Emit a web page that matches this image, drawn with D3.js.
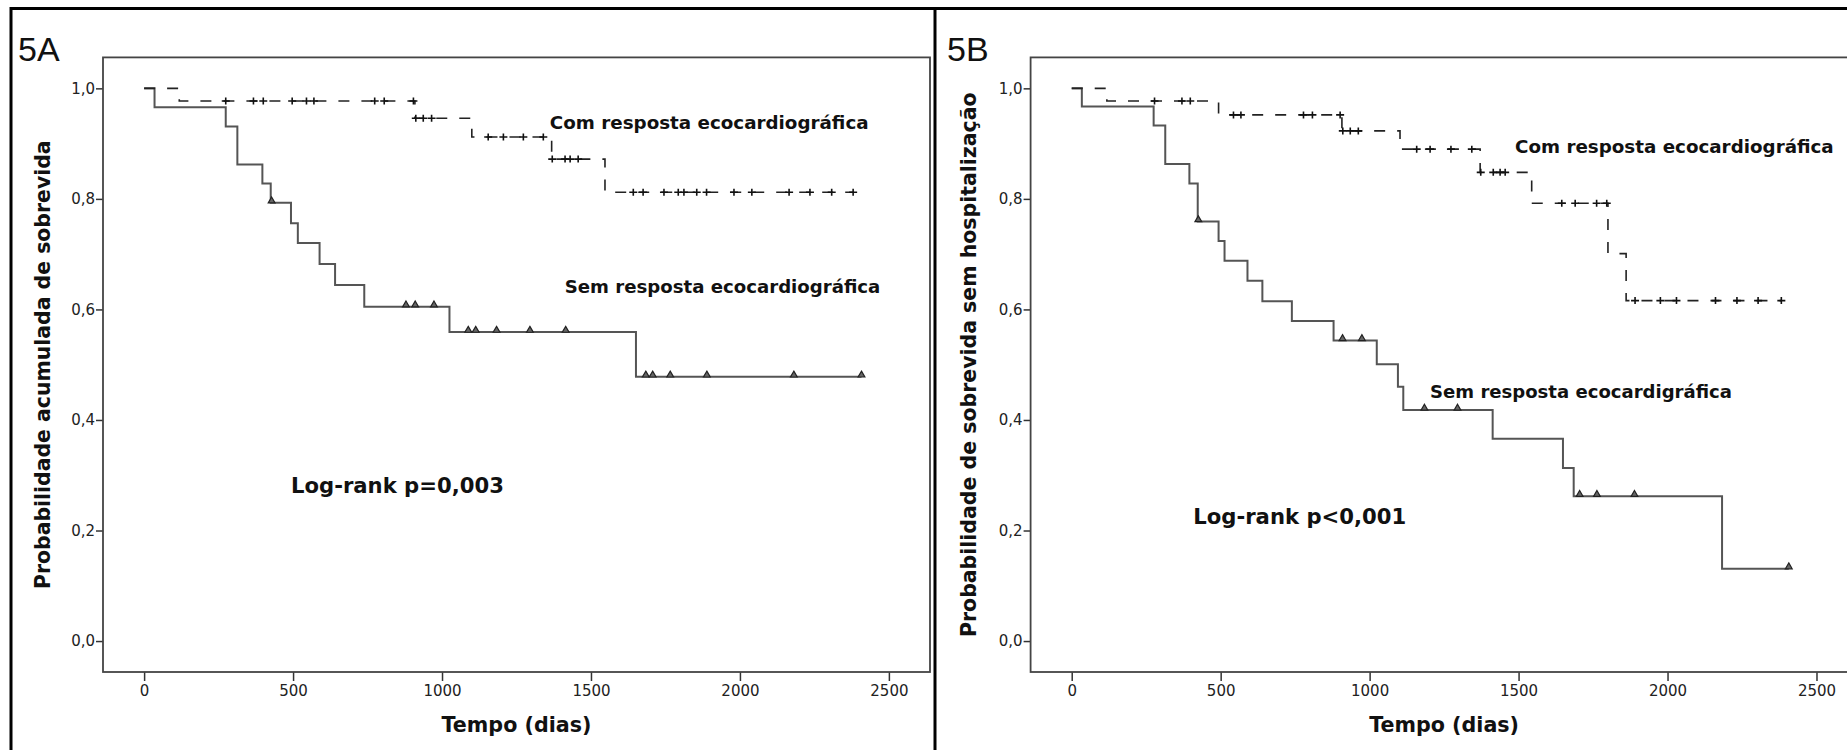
<!DOCTYPE html>
<html>
<head>
<meta charset="utf-8">
<script src="https://cdn.jsdelivr.net/npm/d3@7"></script>
<style>
body { margin: 0; background: #fff; }
svg { display: block; }
</style>
</head>
<body>
<div id="chart"></div>
<script>
const xTicks = [0, 500, 1000, 1500, 2000, 2500];
const yTicks = [0, 0.2, 0.4, 0.6, 0.8, 1.0];

// 5A - com resposta (dashed)
const comA_t = [0, 118, 909, 1100, 1368, 1547];
const comA_s = [1.0, 0.977, 0.946, 0.912, 0.872, 0.812];
const comA_end = 2380;
const comA_cens = [274, 367, 400, 497, 545, 570, 774, 806, 904, 912, 937, 965, 1155, 1206, 1273, 1340,
    1370, 1413, 1430, 1457, 1642, 1675, 1745, 1793, 1812, 1855, 1888, 1980, 2040, 2165, 2235, 2308, 2380];
// 5A - sem resposta (solid)
const semA_t = [0, 35, 274, 313, 397, 425, 493, 516, 589, 641, 739, 1025, 1651];
const semA_s = [1.0, 0.966, 0.931, 0.862, 0.828, 0.793, 0.756, 0.72, 0.682, 0.644, 0.605, 0.559, 0.478];
const semA_end = 2408;
const semA_cens = [428, 879, 910, 973, 1088, 1113, 1183, 1295, 1415, 1684, 1707, 1766, 1889, 2181, 2408];

// 5B - com resposta (dashed)
const comB_t = [0, 118, 493, 907, 1102, 1371, 1544, 1800, 1861];
const comB_s = [1.0, 0.977, 0.952, 0.923, 0.89, 0.848, 0.792, 0.701, 0.616];
const comB_end = 2382;
const comB_cens = [278, 370, 398, 543, 568, 778, 808, 901, 910, 935, 962, 1158, 1203, 1273, 1343,
    1373, 1415, 1438, 1455, 1645, 1690, 1762, 1796, 1891, 1976, 2030, 2161, 2233, 2304, 2382];
// 5B - sem resposta (solid)
const semB_t = [0, 34, 275, 314, 395, 423, 493, 513, 590, 640, 739, 879, 1024, 1095, 1113, 1413, 1649, 1685, 2183];
const semB_s = [1.0, 0.967, 0.933, 0.863, 0.828, 0.759, 0.724, 0.688, 0.652, 0.615, 0.579, 0.544, 0.501, 0.46, 0.418, 0.366, 0.313, 0.262, 0.131];
const semB_end = 2407;
const semB_cens = [425, 909, 974, 1184, 1295, 1705, 1763, 1889, 2407];

// annotations: [text, day, prob, width, size]
const notesA = [
    ["Com resposta ecocardiográfica", 1362, 0.927, 319, 18],
    ["Sem resposta ecocardiográfica", 1412, 0.63, 316, 18],
    ["Log-rank p=0,003", 493, 0.268, 213, 21]
];
const notesB = [
    ["Com resposta ecocardiográfica", 1488, 0.883, 319, 18],
    ["Sem resposta ecocardigráfica", 1203, 0.439, 302, 18],
    ["Log-rank p<0,001", 408, 0.212, 213, 21]
];

const panels = [
    {tag: "5A", left: 103, tagX: 18, ylabX: 50, ylab: "Probabilidade acumulada de sobrevida", ylabW: 449,
     com: [comA_t, comA_s, comA_end, comA_cens], sem: [semA_t, semA_s, semA_end, semA_cens], notes: notesA},
    {tag: "5B", left: 1030.6, tagX: 947, ylabX: 976, ylab: "Probabilidade de sobrevida sem hospitalização", ylabW: 545,
     com: [comB_t, comB_s, comB_end, comB_cens], sem: [semB_t, semB_s, semB_end, semB_cens], notes: notesB}
];

const W = 1847, H = 750;
const frameW = 827, frameTop = 57.4, frameBot = 672;
const fontFam = "DejaVu Sans, Verdana, sans-serif";
const commaFmt = d3.formatLocale({decimal: ",", thousands: ".", grouping: [3], currency: ["", ""]}).format(".1f");

const svg = d3.select("#chart").append("svg")
    .attr("width", W)
    .attr("height", H);

svg.append("rect").attr("width", W).attr("height", H).attr("fill", "#fff");

// fit text to a measured width
function fitWidth(sel, w){
    const fs = parseFloat(sel.attr("font-size"));
    const len = sel.node().getComputedTextLength();
    sel.attr("font-size", fs * w / len);
}

function drawPanel(p){
    const x = d3.scaleLinear().domain([-138, 2638]).range([p.left, p.left + frameW]);
    const y = d3.scaleLinear().domain([-0.056, 1.056]).range([frameBot, frameTop]);
    const g = svg.append("g");

    g.append("text")
        .attr("x", p.tagX).attr("y", 61)
        .attr("font-family", "Liberation Sans, Arial, sans-serif")
        .attr("font-size", 34)
        .attr("fill", "#111")
        .text(p.tag);

    // y axis
    const ya = g.append("g")
        .attr("transform", "translate(" + p.left + ",0)")
        .call(d3.axisLeft(y).tickValues(yTicks).tickSize(7).tickPadding(1).tickFormat(commaFmt));
    // x axis
    const xa = g.append("g")
        .attr("transform", "translate(0," + frameBot + ")")
        .call(d3.axisBottom(x).tickValues(xTicks).tickSize(9).tickPadding(4).tickFormat(d3.format("d")));
    [ya, xa].forEach(function(a){
        a.select(".domain").remove();
        a.selectAll("line").attr("stroke", "#333").attr("stroke-width", 1.5);
        a.selectAll("text").attr("font-family", fontFam).attr("font-size", 15).attr("fill", "#222");
    });

    // frame
    g.append("rect")
        .attr("x", p.left).attr("y", frameTop)
        .attr("width", frameW).attr("height", frameBot - frameTop)
        .attr("fill", "none")
        .attr("stroke", "#444")
        .attr("stroke-width", 1.8);

    const line = d3.line()
        .x(function(d){ return x(d[0]); })
        .y(function(d){ return y(d[1]); })
        .curve(d3.curveStepAfter);

    function curve(c, dashed){
        const t = c[0], s = c[1], end = c[2], cens = c[3];
        const pts = t.map(function(v, i){ return [v, s[i]]; });
        pts.push([end, s[s.length - 1]]);
        g.append("path")
            .datum(pts)
            .attr("fill", "none")
            .attr("stroke", dashed ? "#222" : "#555")
            .attr("stroke-width", dashed ? 1.6 : 2)
            .attr("stroke-dasharray", dashed ? "11,12" : null)
            .attr("d", line);

        const at = function(v){ return s[d3.bisectRight(t, v) - 1]; };
        if(dashed){
            g.selectAll(null)
                .data(cens)
                .enter()
                .append("path")
                .attr("transform", function(d){ return "translate(" + x(d) + "," + y(at(d)) + ")"; })
                .attr("d", "M-4,0H4M0,-3.5V3.5")
                .attr("stroke", "#111")
                .attr("stroke-width", 1.6);
        } else {
            g.selectAll(null)
                .data(cens)
                .enter()
                .append("path")
                .attr("transform", function(d){ return "translate(" + x(d) + "," + (y(at(d)) - 1.8) + ")"; })
                .attr("d", d3.symbol(d3.symbolTriangle, 20))
                .attr("fill", "#666")
                .attr("stroke", "#222")
                .attr("stroke-width", 1.2);
        }
    }
    curve(p.sem, false);
    curve(p.com, true);

    p.notes.forEach(function(n){
        const t = g.append("text")
            .attr("x", x(n[1])).attr("y", y(n[2]))
            .attr("font-family", fontFam)
            .attr("font-weight", "bold")
            .attr("font-size", n[4])
            .attr("fill", "#111")
            .text(n[0]);
        fitWidth(t, n[3]);
    });

    const yl = g.append("text")
        .attr("transform", "translate(" + p.ylabX + "," + ((frameTop + frameBot) / 2) + ") rotate(-90)")
        .attr("text-anchor", "middle")
        .attr("font-family", fontFam)
        .attr("font-weight", "bold")
        .attr("font-size", 20)
        .attr("fill", "#111")
        .text(p.ylab);
    fitWidth(yl, p.ylabW);

    const xl = g.append("text")
        .attr("x", p.left + frameW / 2).attr("y", 732)
        .attr("text-anchor", "middle")
        .attr("font-family", fontFam)
        .attr("font-weight", "bold")
        .attr("font-size", 20)
        .attr("fill", "#111")
        .text("Tempo (dias)");
    fitWidth(xl, 150);
}

panels.forEach(drawPanel);

// outer panel borders
svg.append("path")
    .attr("d", "M11," + H + "V8.5H" + W + "M935,8.5V" + H)
    .attr("fill", "none")
    .attr("stroke", "#000")
    .attr("stroke-width", 3);
</script>
</body>
</html>
